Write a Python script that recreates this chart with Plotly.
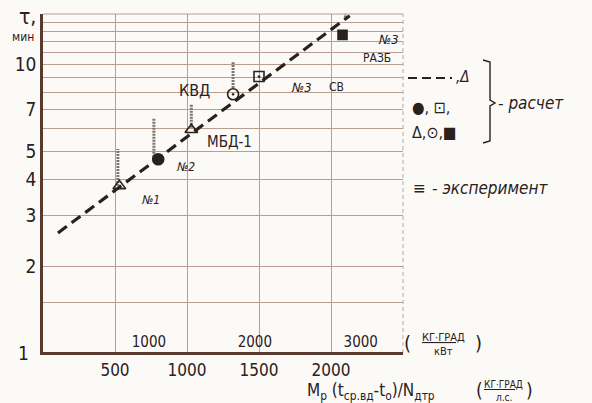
import math
import plotly.graph_objects as go

# ---------------- data ----------------
calc_x = [530, 800, 1030, 1320, 1500, 2080]          # calculated points
calc_y = [3.8, 4.7, 5.95, 7.9, 9.1, 12.7]
exp_x = [520, 770, 1030, 1320, 2100]                 # experimental ranges
exp_lo = [3.8, 4.8, 6.05, 8.3, 14.6]
exp_hi = [5.1, 6.55, 7.3, 10.2, 16.8]
fit_x = [104, 2130]                                  # calculated dashed line
fit_y = [2.61, 14.8]
x_ticks = [500, 1000, 1500, 2000]
y_ticks = [1, 2, 3, 4, 5, 7, 10]
y_minor = [1.5, 6, 8, 9, 11, 12, 13, 14]
kw_ticks = [1000, 2000, 3000]
KW_PER_HP = 0.7355

# ---------------- styles ----------------
calc_symbols = ["triangle-up-open", "circle", "triangle-up-open",
                "circle-open-dot", "square-open-dot", "square"]
calc_sizes = [11, 11, 11, 11, 10, 9]
INK = "#2a201d"
AXIS = "#5a3a2e"
GRID = "#b89e92"
BG = "#fbfaf7"
FONT = "DejaVu Sans Condensed, DejaVu Sans, sans-serif"

L, R, T, B = 43, 403, 14, 353


def P(x, y):
    return dict(x=(x - L) / (R - L), y=(B - y) / (B - T), xref="paper", yref="paper")


fig = go.Figure()

# experimental ranges (hatched vertical bars)
ex, ey = [], []
for x, lo, hi in zip(exp_x, exp_lo, exp_hi):
    ex += [x, x, None]
    ey += [lo, hi, None]
fig.add_trace(go.Scatter(x=ex, y=ey, mode="lines", cliponaxis=False,
                         line=dict(color="#7d7570", width=3, dash="2px,1px"),
                         hoverinfo="skip", showlegend=False))

# calculated dashed line
fig.add_trace(go.Scatter(x=fit_x, y=fit_y, mode="lines", cliponaxis=False,
                         line=dict(color=INK, width=3.2, dash="11px,6px"),
                         showlegend=False))

# calculated points
fig.add_trace(go.Scatter(x=calc_x, y=calc_y, mode="markers", cliponaxis=False,
                         marker=dict(symbol=calc_symbols, size=calc_sizes, color=INK,
                                     opacity=1, line=dict(color=INK, width=1.6)),
                         showlegend=False))

# secondary (kW) scale trace to activate xaxis2
fig.add_trace(go.Scatter(x=[kw_ticks[0]], y=[1], xaxis="x2", mode="markers",
                         marker=dict(opacity=0), hoverinfo="skip", showlegend=False))

fig.update_layout(
    width=592, height=403,
    margin=dict(l=L, r=592 - R, t=T, b=403 - B),
    paper_bgcolor=BG, plot_bgcolor=BG,
    font=dict(family=FONT, color=INK),
    xaxis=dict(range=[0, 2500], tickvals=x_ticks, ticks="",
               showgrid=True, gridcolor=GRID, gridwidth=1,
               showline=True, linecolor=AXIS, linewidth=2.2,
               zeroline=False, tickfont=dict(size=17, family=FONT, color=INK)),
    xaxis2=dict(range=[0, 2500 / KW_PER_HP], overlaying="x", side="bottom", anchor="y",
                tickvals=kw_ticks, ticks="", ticklabelposition="inside",
                showgrid=False, showline=False, zeroline=False,
                tickfont=dict(size=15, family=FONT, color=INK)),
    yaxis=dict(type="log", range=[0, math.log10(15)], tickvals=y_ticks[1:],
               ticks="", showgrid=True, gridcolor=GRID, gridwidth=1,
               showline=True, linecolor=AXIS, linewidth=2.6, zeroline=False,
               tickfont=dict(size=19, family=FONT, color=INK),
               minor=dict(tickvals=y_minor, showgrid=True, gridcolor=GRID,
                          gridwidth=1, ticks="")),
)

shapes = [
    dict(type="line", xref="paper", yref="paper", x0=0, x1=1, y0=1, y1=1,
         line=dict(color=GRID, width=1)),
    dict(type="line", xref="paper", yref="paper", x0=1, x1=1, y0=0, y1=1,
         line=dict(color="#b3aaa3", width=1, dash="4px,3px")),
    dict(type="line", xref="paper", yref="paper", x0=0, x1=1, y0=0, y1=0,
         line=dict(color=AXIS, width=2.2)),
]
# legend dashed line
a, b = P(408, 78), P(452, 78)
shapes.append(dict(type="line", xref="paper", yref="paper", x0=a["x"], x1=b["x"],
                   y0=a["y"], y1=b["y"], line=dict(color=INK, width=2.2, dash="9px,5px")))
# brace
pts = [(483, 60), (490, 62), (490, 100), (495, 103), (490, 106), (490, 141), (483, 143)]
path = ""
for i, (px, py) in enumerate(pts):
    q = P(px, py)
    path += ("M" if i == 0 else "L") + f"{q['x']:.4f},{q['y']:.4f} "
shapes.append(dict(type="path", xref="paper", yref="paper", path=path,
                   line=dict(color=INK, width=1.4)))
fig.update_layout(shapes=shapes)


def txt(s, x, y, size=14, anchor="center", italic=False, **kw):
    fig.add_annotation(text=s, showarrow=False, xanchor=anchor, yanchor="middle",
                       font=dict(size=size, family=FONT, color=INK,
                                 style="italic" if italic else "normal"),
                       **P(x, y), **kw)


# axis labels
txt(str(y_ticks[0]), 31, 353, size=19, anchor="right")
txt("τ,", 27, 17, size=21)
txt("мин", 23, 37, size=12)
txt("M<sub>p</sub> (t<sub>ср.вд</sub>-t<sub>o</sub>)/N<sub>дтр</sub>", 305, 391, size=17, anchor="left")
txt("(", 480, 390, size=19)
txt("<u>КГ·ГРАД</u>", 504, 384, size=10)
txt("л.с.", 504, 397, size=10)
txt(")", 529, 390, size=19)
txt("(", 407, 343, size=20)
txt("<u>КГ·ГРАД</u>", 443, 337, size=11)
txt("кВт", 443, 351, size=11)
txt(")", 478, 343, size=20)

# point labels
txt("КВД", 194, 90, size=16)
txt("МБД-1", 229, 142, size=15)
txt("№1", 150, 200, size=12, italic=True)
txt("№2", 185, 167, size=12, italic=True)
txt("№3", 301, 87, size=13, italic=True)
txt("СВ", 336, 87, size=12)
txt("№3", 388, 40, size=13, italic=True)
txt("РАЗБ", 377, 58, size=12)

# legend texts
txt(",Δ", 454, 77, size=15, anchor="left", italic=True)
txt("●, ⊡,", 410, 107, size=16, anchor="left")
txt("Δ,⊙,■", 410, 132, size=16, anchor="left")
txt("- расчет", 496, 103, size=17, anchor="left", italic=True)
txt("≡", 419, 188, size=17)
txt("- эксперимент", 430, 188, size=17, anchor="left", italic=True)

fig.write_html("out.html", config={"displayModeBar": False},
               post_script="document.body.style.margin='0';")
